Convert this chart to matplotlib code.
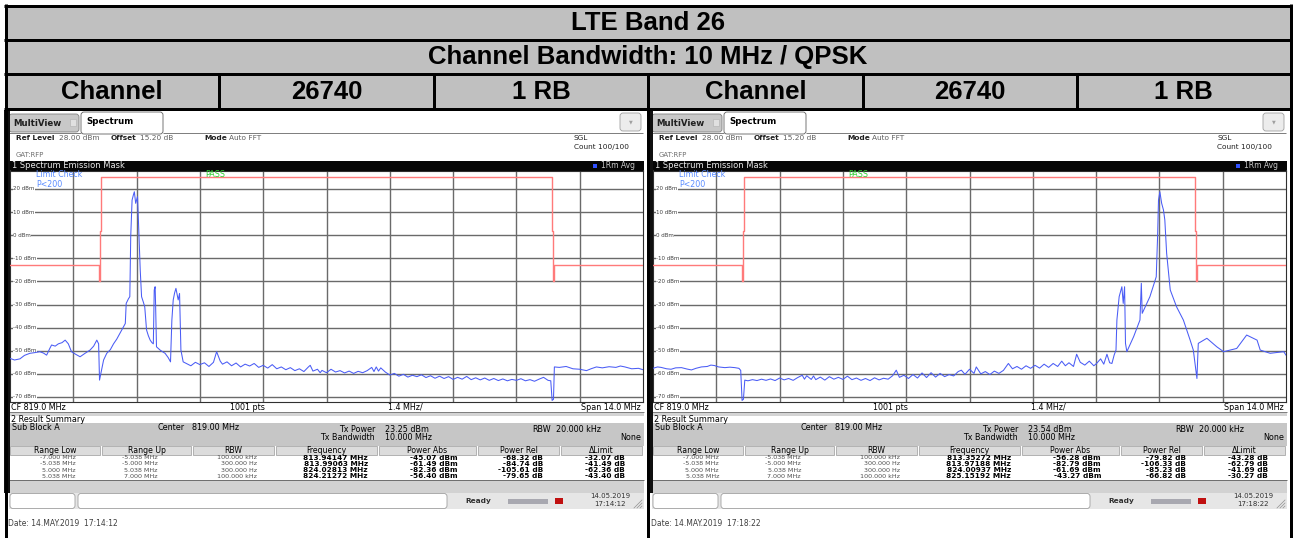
import numpy as np
import matplotlib
matplotlib.use("Agg")
import matplotlib.pyplot as plt
from matplotlib.patches import Rectangle, FancyBboxPatch

# ---- table header ----
TITLE = "LTE Band 26"
SUBTITLE = "Channel Bandwidth: 10 MHz / QPSK"
ROW3 = ["Channel", "26740", "1 RB"]

# ---- spectrum axes ----
GRID_X = [-5.6, -4.2, -2.8, -1.4, 0.0, 1.4, 2.8, 4.2, 5.6]
LEVELS = [20, 10, 0, -10, -20, -30, -40, -50, -60, -70]

# limit mask (MHz offset, dBm)
MASK_F = [-7.0, -5.038, -5.038, -5.0, -5.0, -4.98, -4.98, 4.98, 4.98, 5.0, 5.0, 5.038, 5.038, 7.0]
MASK_V = [-13, -13, -20, -20, 2, 2, 25, 25, 2, 2, -20, -20, -13, -13]

# left trace (RB at lower channel edge)
LEFT_F = [-7.00, -6.90, -6.78, -6.68, -6.56, -6.45, -6.34, -6.26, -6.19, -6.12, -6.08, -6.00,
          -5.93, -5.85, -5.78, -5.71, -5.64, -5.55, -5.45, -5.34, -5.23, -5.15, -5.08, -5.04,
          -5.02, -4.99, -4.93, -4.86, -4.78, -4.71, -4.64, -4.57, -4.50, -4.45, -4.43, -4.38,
          -4.35, -4.33, -4.30, -4.27, -4.25, -4.22, -4.18, -4.16, -4.12, -4.09, -4.05, -4.02,
          -3.98, -3.94, -3.90, -3.86, -3.83, -3.81, -3.79, -3.78, -3.76, -3.72, -3.68, -3.62,
          -3.57, -3.50, -3.45, -3.42, -3.39, -3.36, -3.33, -3.30, -3.28, -3.25, -3.22, -3.17,
          -3.10, -3.00, -2.90, -2.80, -2.70, -2.60, -2.50, -2.43, -2.35, -2.30, -2.20, -2.10,
          -2.00, -1.90, -1.80, -1.70, -1.60, -1.50, -1.40, -1.30, -1.20, -1.10, -1.00, -0.90,
          -0.80, -0.70, -0.60, -0.50, -0.40, -0.36, -0.30, -0.20, -0.14, -0.10, 0.00, 0.10,
          0.20, 0.30, 0.40, 0.50, 0.60, 0.70, 0.80, 0.90, 1.00, 1.05, 1.10, 1.15,
          1.20, 1.30, 1.40, 1.50, 1.60, 1.70, 1.80, 1.90, 2.00, 2.10, 2.20, 2.30,
          2.40, 2.50, 2.60, 2.70, 2.80, 2.90, 3.00, 3.10, 3.20, 3.30, 3.40, 3.50,
          3.60, 3.70, 3.80, 3.90, 4.00, 4.10, 4.20, 4.30, 4.40, 4.50, 4.60, 4.70,
          4.80, 4.90, 4.96, 4.99, 5.02, 5.04, 5.15, 5.30, 5.45, 5.60, 5.75, 5.85,
          5.97, 6.10, 6.25, 6.40, 6.50, 6.60, 6.75, 6.90, 7.00]
LEFT_V = [-53.3, -54.0, -53.5, -52.0, -51.1, -50.8, -50.4, -51.0, -51.9, -49.0, -47.5, -48.0,
          -47.0, -46.5, -45.4, -47.0, -50.4, -51.5, -52.6, -51.1, -49.7, -48.0, -45.4, -47.0,
          -62.7, -59.8, -54.0, -51.1, -49.5, -47.0, -45.0, -42.5, -40.0, -38.2, -29.5, -27.5,
          -26.6, -0.6, 15.2, 17.5, 18.8, 13.8, 16.7, 6.6, -15.0, -26.6, -29.0, -31.0,
          -41.0, -43.5, -45.4, -46.5, -47.0, -23.7, -22.3, -30.0, -48.3, -49.0, -49.7, -50.5,
          -51.1, -53.0, -54.8, -36.7, -28.0, -25.0, -23.0, -26.0, -28.0, -25.2, -49.7, -54.8,
          -55.5, -56.5, -55.0, -56.0, -55.2, -56.8, -55.0, -50.4, -54.5, -55.8, -54.8, -56.5,
          -55.3, -57.0, -55.8, -56.6, -55.5, -57.2, -56.3, -57.5, -56.0, -57.8, -57.0, -58.2,
          -57.3, -58.6, -57.8, -59.0, -57.0, -56.3, -58.8, -58.0, -59.5, -58.5, -59.5, -58.0,
          -59.2, -58.6, -59.6, -58.8, -59.8, -58.9, -59.5, -58.6, -57.2, -59.0, -57.0, -58.8,
          -57.4, -59.2, -60.5, -59.8, -61.0, -60.2, -61.4, -60.6, -61.2, -60.4, -61.6, -60.8,
          -61.9, -61.0, -62.0, -61.2, -62.4, -61.5, -62.3, -61.1, -62.5, -61.7, -62.6, -61.8,
          -62.8, -62.0, -62.9, -62.2, -63.0, -62.4, -62.8, -62.1, -63.0, -62.5, -63.2, -62.3,
          -61.5, -62.8, -63.0, -71.5, -71.0, -57.0, -57.2, -56.8, -57.8, -58.0, -58.6, -57.8,
          -57.0, -57.4, -56.9, -57.2, -56.6, -57.0, -57.8, -57.6, -58.2]

# right trace (RB at upper channel edge)
RIGHT_F = [-7.00, -6.90, -6.82, -6.70, -6.60, -6.50, -6.37, -6.25, -6.15, -6.05, -5.93, -5.80,
           -5.72, -5.64, -5.55, -5.41, -5.30, -5.19, -5.10, -5.06, -5.03, -5.00, -4.97, -4.90,
           -4.80, -4.70, -4.60, -4.50, -4.40, -4.30, -4.20, -4.10, -4.00, -3.90, -3.80, -3.70,
           -3.65, -3.60, -3.50, -3.45, -3.40, -3.30, -3.20, -3.10, -3.00, -2.90, -2.80, -2.70,
           -2.60, -2.50, -2.40, -2.30, -2.20, -2.10, -2.00, -1.90, -1.80, -1.70, -1.62, -1.55,
           -1.45, -1.35, -1.25, -1.15, -1.05, -0.95, -0.85, -0.75, -0.65, -0.55, -0.45, -0.35,
           -0.25, -0.18, -0.10, 0.00, 0.10, 0.15, 0.25, 0.35, 0.45, 0.55, 0.65, 0.75,
           0.86, 0.95, 1.05, 1.15, 1.25, 1.35, 1.45, 1.55, 1.65, 1.75, 1.85, 1.95,
           2.04, 2.12, 2.20, 2.30, 2.37, 2.45, 2.55, 2.65, 2.75, 2.81, 2.90, 2.97,
           3.04, 3.10, 3.15, 3.20, 3.24, 3.26, 3.31, 3.37, 3.40, 3.43, 3.45, 3.48,
           3.63, 3.77, 3.80, 3.82, 3.99, 4.13, 4.16, 4.18, 4.21, 4.25, 4.29, 4.32,
           4.36, 4.44, 4.58, 4.73, 4.88, 4.95, 5.03, 5.06, 5.25, 5.47, 5.62, 5.91,
           6.13, 6.36, 6.43, 6.65, 6.95, 7.00]
RIGHT_V = [-57.6, -57.0, -57.2, -57.8, -58.0, -57.4, -57.3, -57.9, -58.3, -57.6, -57.0, -56.8,
           -56.2, -56.4, -57.0, -57.3, -57.1, -57.3, -57.6, -58.5, -71.5, -71.0, -62.7, -63.0,
           -62.5, -62.9, -62.3, -62.8, -62.2, -62.9, -61.8, -62.6, -62.0, -62.8, -61.6, -60.6,
           -62.3, -60.8, -62.4, -60.9, -62.5, -61.4, -62.7, -61.2, -62.3, -61.5, -62.4, -61.0,
           -62.5, -61.8, -62.8, -62.0, -62.9, -61.7, -62.6, -61.9, -62.3, -60.8, -58.4, -61.5,
           -60.6, -62.0, -60.3, -61.8, -59.6, -61.6, -59.5, -61.4, -59.8, -61.2, -60.3, -60.9,
           -59.0, -58.4, -60.2, -58.0, -59.8, -57.0, -60.0, -59.0, -60.3, -58.8, -59.8, -58.5,
           -55.5, -57.8, -56.8, -58.0, -56.5, -57.6, -56.3, -57.5, -55.8, -57.2, -55.5, -56.8,
           -54.5, -56.5, -55.2, -56.8, -51.5, -55.0, -56.2, -54.5, -56.5, -55.5, -53.5, -55.8,
           -51.5, -55.2, -55.5, -51.8, -49.7, -36.7, -26.6, -22.3, -29.5, -22.3, -46.8, -50.4,
           -43.9, -36.7, -20.8, -33.8, -26.6, -18.0, -0.6, 15.2, 18.8, 13.8, 10.9, 6.6,
           -7.8, -23.7, -31.0, -36.7, -45.4, -49.7, -62.0, -46.8, -44.6, -48.3, -50.4, -49.0,
           -43.2, -45.4, -49.7, -51.1, -50.4, -51.9]

# ---- result summary ----
COLS = ["Range Low", "Range Up", "RBW", "Frequency", "Power Abs", "Power Rel", "\u0394Limit"]
RANGE_LOW = ["-7.000 MHz", "-5.038 MHz", "5.000 MHz", "5.038 MHz"]
RANGE_UP = ["-5.038 MHz", "-5.000 MHz", "5.038 MHz", "7.000 MHz"]
RBW = ["100.000 kHz", "300.000 Hz", "300.000 Hz", "100.000 kHz"]

LEFT_FREQ = ["813.94147 MHz", "813.99063 MHz", "824.02813 MHz", "824.21272 MHz"]
LEFT_PABS = ["-45.07 dBm", "-61.49 dBm", "-82.36 dBm", "-56.40 dBm"]
LEFT_PREL = ["-68.32 dB", "-84.74 dB", "-105.61 dB", "-79.65 dB"]
LEFT_DLIM = ["-32.07 dB", "-41.49 dB", "-62.36 dB", "-43.40 dB"]

RIGHT_FREQ = ["813.35272 MHz", "813.97188 MHz", "824.00937 MHz", "825.15192 MHz"]
RIGHT_PABS = ["-56.28 dBm", "-82.79 dBm", "-61.69 dBm", "-43.27 dBm"]
RIGHT_PREL = ["-79.82 dB", "-106.33 dB", "-85.23 dB", "-66.82 dB"]
RIGHT_DLIM = ["-43.28 dB", "-62.79 dB", "-41.69 dB", "-30.27 dB"]

W, H = 1293, 538
fig = plt.figure(figsize=(W / 100, H / 100), dpi=100)
fig.patch.set_facecolor("white")
bg = fig.add_axes([0, 0, 1, 1])
bg.set_xlim(0, W)
bg.set_ylim(H, 0)
bg.axis("off")

GREY = "#c0c0c0"
SANS = "DejaVu Sans"


def txt(x, y, s, size=5.5, ha="left", va="center", color="black", weight="normal",
        family=SANS):
    fig.text(x / W, 1 - y / H, s, fontsize=size, ha=ha, va=va, color=color,
             fontweight=weight, family=family)


def rect(x0, y0, x1, y1, fc, ec="none", lw=0.0, z=1):
    bg.add_patch(Rectangle((x0, y0), x1 - x0, y1 - y0, facecolor=fc, edgecolor=ec,
                           linewidth=lw, zorder=z))


def rrect(x0, y0, x1, y1, fc, ec, lw=0.6, z=2):
    bg.add_patch(FancyBboxPatch((x0, y0), x1 - x0, y1 - y0,
                                boxstyle="round,pad=0,rounding_size=3",
                                facecolor=fc, edgecolor=ec, linewidth=lw, zorder=z))


def hline(y, x0, x1, color="black", lw=3, z=5):
    bg.plot([x0, x1], [y, y], color=color, lw=lw * 0.72, zorder=z, solid_capstyle="butt")


def vline(x, y0, y1, color="black", lw=3, z=5):
    bg.plot([x, x], [y0, y1], color=color, lw=lw * 0.72, zorder=z, solid_capstyle="butt")


# ---- header table ----
rect(5, 5, 1291, 109, GREY)
for y in [5.5, 39.5, 73.5, 108.5]:
    hline(y, 4, 1292)
for x in [5.5, 1290.5]:
    vline(x, 4, 538)
vline(648, 73.5, 538)
for x in [219, 434, 863, 1077]:
    vline(x, 73.5, 108.5)
HFONT = "Liberation Sans"
txt(648, 22.5, TITLE, size=18.5, ha="center", weight="bold", family=HFONT)
txt(648, 57, SUBTITLE, size=18.5, ha="center", weight="bold", family=HFONT)
for cells in [(5.5, 219, 434, 648), (648, 863, 1077, 1290.5)]:
    for i, s in enumerate(ROW3):
        txt((cells[i] + cells[i + 1]) / 2, 92, s, size=18.5, ha="center", weight="bold",
            family=HFONT)


def screen(ox, trace_f, trace_v, tx_power, freq, pabs, prel, dlim, clock):
    # instrument frame
    rect(ox + 4, 110, ox + 9.5, 493, "#101010", z=4)
    # tabs
    rrect(ox + 9, 114, ox + 79, 132, "#c8c8c8", "#808080")
    rect(ox + 70, 119, ox + 76, 126, "#e0e0e0", "#b0b0b0", 0.4, z=3)
    txt(ox + 13, 123, "MultiView", size=6.2, weight="bold", color="#202020")
    rrect(ox + 81, 112, ox + 163, 134, "white", "#606060")
    txt(ox + 86, 122, "Spectrum", size=6.2, weight="bold")
    hline(132.5, ox + 9, ox + 81, color="#808080", lw=1, z=3)
    hline(132.5, ox + 163, ox + 643, color="#808080", lw=1, z=3)
    rrect(ox + 620, 113, ox + 641, 131, "#ececec", "#a0a0a0")
    txt(ox + 630.5, 121.5, "\u25bc", size=3.5, ha="center", color="#a0a0a0")
    # settings line
    txt(ox + 16, 138, "Ref Level", size=5.3, weight="bold", color="#202020")
    txt(ox + 59, 138, "28.00 dBm", size=5.3, color="#606060")
    txt(ox + 111, 138, "Offset", size=5.3, weight="bold", color="#202020")
    txt(ox + 140, 138, "15.20 dB", size=5.3, color="#606060")
    txt(ox + 204, 138, "Mode", size=5.3, weight="bold", color="#202020")
    txt(ox + 229, 138, "Auto FFT", size=5.3, color="#606060")
    txt(ox + 574, 138.5, "SGL", size=5.3, color="#202020")
    txt(ox + 574, 146.5, "Count 100/100", size=5.3, color="#202020")
    txt(ox + 16, 155, "GAT:RFP", size=5.0, color="#707070")
    # window title bar
    rect(ox + 9, 160.5, ox + 644, 170.5, "#050505", z=3)
    txt(ox + 12, 165.5, "1 Spectrum Emission Mask", size=6, color="#e8e8e8")
    rect(ox + 593, 163.5, ox + 597, 167.5, "#3050ff", z=4)
    txt(ox + 601, 165.5, "1Rm Avg", size=5.5, color="#c8c8c8")

    # spectrum plot
    x0, y0, x1, y1 = ox + 10, 170.5, ox + 643, 401.6
    ax = fig.add_axes([x0 / W, 1 - y1 / H, (x1 - x0) / W, (y1 - y0) / H])
    ax.set_xlim(-7, 7)
    ax.set_ylim(-72, 28)
    ax.set_xticks([])
    ax.set_yticks([])
    for s in ax.spines.values():
        s.set_color("#303030")
        s.set_linewidth(0.8)
    for g in GRID_X:
        ax.axvline(g, color="#6a6a6a", lw=1.0, zorder=1)
    for v in LEVELS:
        ax.axhline(v, color="#6a6a6a", lw=1.0, zorder=1)
        ax.text(-6.93, v, f"{v} dBm", fontsize=4.0, va="center", ha="left", color="#404040",
                zorder=2, bbox=dict(facecolor="white", edgecolor="none", pad=0.3))
    ax.plot(MASK_F, MASK_V, color="#ff7a7a", lw=1.0, zorder=3)
    ax.plot(trace_f, trace_v, color="#4a5cf5", lw=0.75, zorder=4)
    ax.text(-6.42, 26.1, "Limit Check", fontsize=5.7, color="#5a8cff", va="center", zorder=5)
    ax.text(-6.42, 22.0, "P<200", fontsize=5.7, color="#5a8cff", va="center", zorder=5)
    ax.text(-2.47, 26.1, "PASS", fontsize=5.8, color="#30d030", va="center", ha="center",
            zorder=5)

    # footer line under the plot
    txt(ox + 11, 407, "CF 819.0 MHz", size=5.8)
    txt(ox + 247, 407, "1001 pts", size=5.8, ha="center")
    txt(ox + 405, 407, "1.4 MHz/", size=5.8, ha="center")
    txt(ox + 641, 407, "Span 14.0 MHz", size=5.8, ha="right")
    hline(412, ox + 9, ox + 644, color="#808080", lw=1, z=3)

    # result summary
    rect(ox + 9, 413, ox + 644, 416, "#d4d4d4", z=2)
    txt(ox + 11, 419.5, "2 Result Summary", size=5.8)
    rect(ox + 9, 423, ox + 644, 446, "#c6c6c6", z=2)
    txt(ox + 12, 428, "Sub Block A", size=5.8)
    txt(ox + 185, 428, "Center", size=5.8, ha="right")
    txt(ox + 192, 428, "819.00 MHz", size=5.8)
    txt(ox + 375, 429, "Tx Power", size=5.8, ha="right")
    txt(ox + 385, 429, tx_power, size=5.8)
    txt(ox + 551, 429, "RBW", size=5.8, ha="right")
    txt(ox + 556, 429, "20.000 kHz", size=5.8)
    txt(ox + 375, 437, "Tx Bandwidth", size=5.8, ha="right")
    txt(ox + 385, 437, "10.000 MHz", size=5.8)
    txt(ox + 641, 437, "None", size=5.8, ha="right")
    edges = [9, 101, 192, 275, 378, 477, 560, 643]
    for i, c in enumerate(COLS):
        rect(ox + edges[i] + 1, 446, ox + edges[i + 1] - 1, 454.5, "#dcdcdc", "#9a9a9a", 0.5, z=3)
        txt(ox + (edges[i] + edges[i + 1]) / 2, 450.5, c, size=5.6, ha="center")
    rows_y = [457.6, 463.8, 470.0, 476.2]
    for r, y in enumerate(rows_y):
        txt(ox + 76, y, RANGE_LOW[r], size=4.6, ha="right", color="#505050")
        txt(ox + 158, y, RANGE_UP[r], size=4.6, ha="right", color="#505050")
        txt(ox + 257, y, RBW[r], size=4.6, ha="right", color="#505050")
        txt(ox + 368, y, freq[r], size=5.3, ha="right", weight="bold")
        txt(ox + 458, y, pabs[r], size=5.3, ha="right", weight="bold")
        txt(ox + 543, y, prel[r], size=5.3, ha="right", weight="bold")
        txt(ox + 625, y, dlim[r], size=5.3, ha="right", weight="bold")
    rect(ox + 9, 479.5, ox + 644, 493, "#d2d2d2", z=2)
    hline(479.5, ox + 9, ox + 644, color="#707070", lw=1, z=3)

    # status bar
    rect(ox + 9, 493, ox + 644, 509, "#e6e6e6", z=2)
    rrect(ox + 10, 493.5, ox + 75, 508.5, "white", "#a0a0a0")
    rrect(ox + 78, 493.5, ox + 447, 508.5, "white", "#a0a0a0")
    txt(ox + 478, 501.5, "Ready", size=5.3, weight="bold", ha="center", color="#303030")
    rect(ox + 508, 499, ox + 548, 504, "#a8a8b0", z=3)
    rect(ox + 555, 498, ox + 563, 504, "#c01010", z=3)
    txt(ox + 610, 496, "14.05.2019", size=5.0, ha="center", color="#303030")
    txt(ox + 626, 504, clock, size=5.0, ha="right", color="#303030")
    for k in range(3):
        bg.plot([ox + 634 + 3 * k, ox + 642], [508, 500 + 3 * k], color="#909090", lw=0.5,
                zorder=4)

    txt(ox + 8, 523, "Date: 14.MAY.2019  " + clock, size=5.5, color="#404040")


screen(0, LEFT_F, LEFT_V, "23.25 dBm", LEFT_FREQ, LEFT_PABS, LEFT_PREL, LEFT_DLIM, "17:14:12")
screen(643, RIGHT_F, RIGHT_V, "23.54 dBm", RIGHT_FREQ, RIGHT_PABS, RIGHT_PREL, RIGHT_DLIM,
       "17:18:22")

fig.savefig("out.png", dpi=100)
